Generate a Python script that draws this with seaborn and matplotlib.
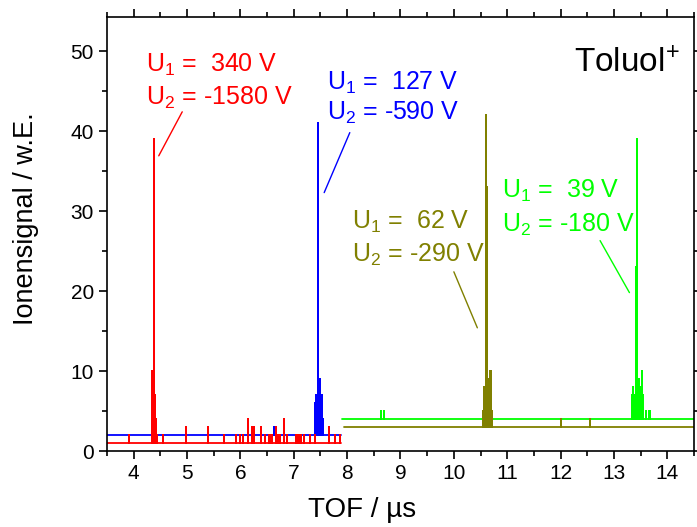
import matplotlib
matplotlib.use("Agg")
import matplotlib.pyplot as plt
from matplotlib.ticker import MultipleLocator
import seaborn as sns

# ---------------- data ----------------
# each series: baseline offset, x-range of the trace, spike positions (µs) and heights above baseline
red_base, red_range = 1.0, (3.5, 7.88)
red_x = [3.91, 4.34, 4.35, 4.36, 4.37, 4.38, 4.39, 4.40, 4.42, 4.43, 4.55, 4.975, 5.39, 5.69,
         5.925, 5.99, 6.04, 6.14, 6.21, 6.25, 6.38, 6.47, 6.53, 6.56, 6.60, 6.66, 6.71, 6.74,
         6.81, 6.88, 7.04, 7.08, 7.11, 7.14, 7.19, 7.30, 7.39, 7.66, 7.78, 7.86]
red_h = [1, 6, 9, 6, 6, 38, 37, 6, 3, 1, 1, 2, 2, 1,
         1, 1, 1, 3, 2, 2, 2, 1, 1, 1, 1, 2, 1, 1,
         3, 1, 1, 1, 1, 1, 1, 1, 1, 2, 1, 1]

blue_base, blue_range = 2.0, (3.5, 7.88)
blue_x = [6.63, 7.39, 7.41, 7.43, 7.45, 7.46, 7.48, 7.50, 7.52, 7.54]
blue_h = [1, 4, 5, 5, 39, 36, 7, 7, 5, 2]

olive_base, olive_range = 3.0, (7.94, 14.5)
olive_x = [10.54, 10.56, 10.58, 10.60, 10.61, 10.63, 10.65, 10.67, 10.69, 10.71, 12.01, 12.55]
olive_h = [2, 5, 4, 3, 39, 30, 6, 7, 7, 2, 1, 1]

green_base, green_range = 4.0, (7.90, 14.5)
green_x = [8.63, 8.69, 13.33, 13.36, 13.39, 13.42, 13.44, 13.47, 13.50, 13.52, 13.55,
           13.60, 13.65, 13.68]
green_h = [1, 1, 3, 4, 3, 19, 35, 5, 4, 6, 3, 1, 1, 1]

labels_u1 = ["U$_1$ =  340 V", "U$_1$ =  127 V", "U$_1$ =  62 V", "U$_1$ =  39 V"]
labels_u2 = ["U$_2$ = -1580 V", "U$_2$ = -590 V", "U$_2$ = -290 V", "U$_2$ = -180 V"]
species = "Toluol$^{+}$"
xlabel = "TOF / µs"
ylabel = "Ionensignal / w.E."

# ---------------- style ----------------
sns.set_theme(style="ticks")
plt.rcParams["font.family"] = ["Liberation Sans", "DejaVu Sans"]
plt.rcParams["mathtext.fontset"] = "custom"
plt.rcParams["mathtext.rm"] = "Liberation Sans"
plt.rcParams["mathtext.it"] = "Liberation Sans:italic"
plt.rcParams["mathtext.bf"] = "Liberation Sans:bold"

fig = plt.figure(figsize=(6.97, 5.27), dpi=100)
ax = fig.add_axes([0.1535, 0.1442, 0.9957 - 0.1535, 0.9677 - 0.1442])


def trace(xr, base, xs, hs):
    tx, ty = [xr[0]], [base]
    for xi, hi in zip(xs, hs):
        tx += [xi, xi, xi]
        ty += [base, base + hi, base]
    tx.append(xr[1])
    ty.append(base)
    return tx, ty


series = [
    (green_range, green_base, green_x, green_h, "#00ff00"),
    (olive_range, olive_base, olive_x, olive_h, "#808000"),
    (blue_range, blue_base, blue_x, blue_h, "#0000ff"),
    (red_range, red_base, red_x, red_h, "#ff0000"),
]
for xr, base, xs, hs, col in series:
    tx, ty = trace(xr, base, xs, hs)
    sns.lineplot(x=tx, y=ty, estimator=None, sort=False, color=col, lw=1.3, ax=ax)

# annotations: (text x, line1 y, line2 y, leader start, leader end, colour)
ann = [
    (4.24, 47.4, 43.25, (4.91, 42.4), (4.47, 36.9), "#ff0000"),
    (7.62, 45.1, 41.4, (8.05, 39.8), (7.57, 32.3), "#0000ff"),
    (8.09, 27.8, 23.7, (10.0, 22.4), (10.44, 15.4), "#808000"),
    (10.9, 31.6, 27.4, (12.74, 26.3), (13.29, 19.8), "#00ff00"),
]
for (tx, y1, y2, p0, p1, col), l1, l2 in zip(ann, labels_u1, labels_u2):
    ax.text(tx, y1, l1, color=col, fontsize=18, va="baseline", ha="left")
    ax.text(tx, y2, l2, color=col, fontsize=18, va="baseline", ha="left")
    ax.plot([p0[0], p1[0]], [p0[1], p1[1]], color=col, lw=1.0)

ax.text(14.24, 47.4, species, fontsize=24, ha="right", va="baseline", color="black")

ax.set_xlim(3.5, 14.5)
ax.set_ylim(0, 54.25)
ax.xaxis.set_major_locator(MultipleLocator(1))
ax.xaxis.set_minor_locator(MultipleLocator(0.5))
ax.yaxis.set_major_locator(MultipleLocator(10))
ax.yaxis.set_minor_locator(MultipleLocator(5))
ax.tick_params(which="both", direction="out", top=True, right=True, width=1.2, color="black",
               labelsize=15, labelcolor="black")
ax.tick_params(which="major", length=6)
ax.tick_params(which="minor", length=3.5)
for s in ax.spines.values():
    s.set_visible(True)
    s.set_linewidth(1.2)
    s.set_color("black")

ax.set_xlabel(xlabel, fontsize=20, color="black")
ax.set_ylabel(ylabel, fontsize=19.5, color="black")
ax.xaxis.set_label_coords(0.435, -0.106)
ax.yaxis.set_label_coords(-0.115, 0.535)

fig.savefig("out.png", dpi=100, facecolor="white")
